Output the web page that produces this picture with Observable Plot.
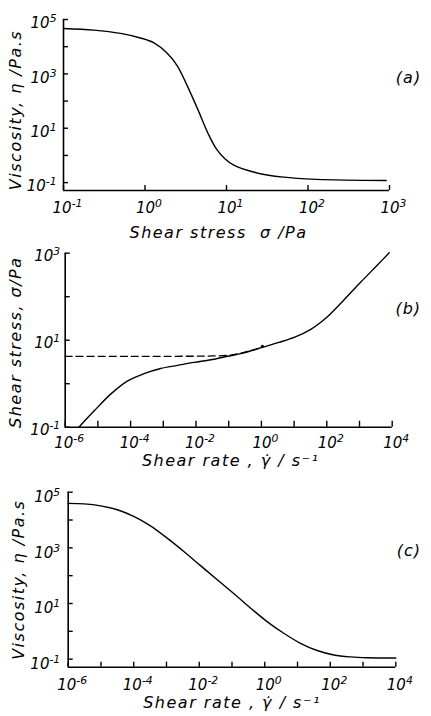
<!DOCTYPE html>
<html><head><meta charset="utf-8">
<script src="https://cdn.jsdelivr.net/npm/d3@7"></script>
<script src="https://cdn.jsdelivr.net/npm/@observablehq/plot@0.6"></script>
<style>body{margin:0;background:#fff} #chart svg{display:block}</style>
</head><body><div id="chart"></div>
<script>
// ---- Data (log10 values) ----
// (a) viscosity vs shear stress
const logStressA = [-1.0, -0.63, -0.30, -0.055, 0.11, 0.27, 0.40, 0.52, 0.64, 0.78, 0.88, 0.98, 1.09, 1.33, 1.70, 2.11, 2.96];
const logViscA   = [4.67, 4.61, 4.49, 4.32, 4.14, 3.77, 3.28, 2.55, 1.75, 0.77, 0.22, -0.12, -0.36, -0.61, -0.80, -0.88, -0.92];
// (b) shear stress vs shear rate (solid) and yield-stress extrapolation (dashed)
const logRateB   = [-5.58, -5.12, -4.61, -4.10, -3.59, -3.08, -2.57, -2.06, -1.55, -1.04, -0.53, 0.0, 0.54, 1.02, 1.51, 2.02, 2.53, 3.02, 3.55, 3.91];
const logStressB = [-1.0, -0.63, -0.24, 0.06, 0.23, 0.35, 0.42, 0.49, 0.55, 0.63, 0.71, 0.83, 0.95, 1.07, 1.25, 1.54, 1.93, 2.32, 2.73, 3.01];
const logRateDash   = [-6, -4, -3, -2, -1.5, -1.0, -0.5, 0.0];
const logStressDash = [0.63, 0.63, 0.63, 0.632, 0.638, 0.655, 0.725, 0.835];
const blobB = [{lx: 0.03, ly: 0.86}];
// (c) viscosity vs shear rate
const logRateC = [-6, -5.52, -5.01, -4.5, -4.0, -3.49, -2.98, -2.47, -1.96, -1.45, -0.94, -0.43, 0.07, 0.58, 1.09, 1.60, 2.11, 2.62, 3.13, 4.0];
const logViscC = [4.60, 4.58, 4.51, 4.37, 4.13, 3.79, 3.35, 2.87, 2.36, 1.85, 1.35, 0.83, 0.35, -0.07, -0.43, -0.69, -0.85, -0.92, -0.95, -0.96];

// Tick exponents (decades)
const xTicksA = [-1, 0, 1, 2, 3], xLabelsA = [-1, 0, 1, 2, 3];
const yTicksA = [-1, 0, 1, 2, 3, 4, 5], yLabelsA = [-1, 1, 3, 5];
const xTicksB = [-6, -5, -4, -3, -2, -1, 0, 1, 2, 3, 4], xLabelsB = [-6, -4, -2, 0, 2, 4];
const yTicksB = [-1, 0, 1, 2, 3], yLabelsB = [-1, 1, 3];
const xTicksC = xTicksB, xLabelsC = xLabelsB;
const yTicksC = yTicksA, yLabelsC = yLabelsA;

const titleStressA = "Shear stress  σ /Pa";
const titleViscA = "Viscosity, η /Pa.s";
const titleRate = "Shear rate , γ̇ / s⁻¹";
const titleStressB = "Shear stress, σ/Pa";
const tags = ["(a)", "(b)", "(c)"];

// ---- helpers ----
const p10 = e => Math.pow(10, e);
const SUP = {"-": "⁻", "0": "⁰", "1": "¹", "2": "²", "3": "³", "4": "⁴", "5": "⁵", "6": "⁶", "7": "⁷", "8": "⁸", "9": "⁹"};
const UNSUP = Object.fromEntries(Object.entries(SUP).map(([k, v]) => [v, k]));
const fmt = d => "10" + String(Math.round(Math.log10(d))).split("").map(c => SUP[c]).join("");
const FONT = "'DejaVu Sans', sans-serif";
const zip = (a, b) => a.map((v, i) => ({x: p10(v), y: p10(b[i])}));

function panel(o) {
  const W = 431;
  const fh = o.height - o.marginTop - o.marginBottom;
  const fw = W - o.marginLeft - o.marginRight;
  const lx0 = Math.log10(o.xDomain[0]), lx1 = Math.log10(o.xDomain[1]);
  const ly0 = Math.log10(o.yDomain[0]), ly1 = Math.log10(o.yDomain[1]);
  const tickTopY = p10(ly0 + o.tickLen * (ly1 - ly0) / fh);   // inward x-tick end
  const tickEndX = p10(lx0 + 5 * (lx1 - lx0) / fw);            // inward y-tick end
  return Plot.plot({
    width: W, height: o.height,
    marginTop: o.marginTop, marginBottom: o.marginBottom,
    marginLeft: o.marginLeft, marginRight: o.marginRight,
    style: {fontFamily: FONT, fontStyle: "italic", fontSize: "15px", background: "white", color: "black", overflow: "visible"},
    x: {type: "log", domain: o.xDomain},
    y: {type: "log", domain: o.yDomain},
    marks: [
      Plot.ruleX([o.xDomain[0]], {stroke: "black", strokeWidth: 1.6}),
      Plot.ruleY([o.yDomain[0]], {stroke: "black", strokeWidth: 1.6}),
      Plot.ruleX(o.xTicks.map(p10), {x: d => d, y1: o.yDomain[0], y2: tickTopY, stroke: "black", strokeWidth: 1.4}),
      Plot.ruleY(o.yTicks.map(p10), {y: d => d, x1: o.xDomain[0], x2: tickEndX, stroke: "black", strokeWidth: 1.4}),
      Plot.axisX(o.xLabels.map(p10), {tickSize: 0, tickPadding: o.xPad, dx: 4, tickFormat: fmt, label: null, fontSize: 15}),
      Plot.axisY(o.yLabels.map(p10), {tickSize: 0, tickPadding: o.yPad, dy: o.yDy, tickFormat: fmt, label: null, fontSize: 15}),
      ...o.marks,
      Plot.text([o.xTitle], {text: d => d, frameAnchor: "bottom", textAnchor: "middle", dx: o.xTitleDx, dy: o.xTitleDy, lineAnchor: "middle", fontSize: 16}),
      Plot.text([o.yTitle], {text: d => d, frameAnchor: "left", textAnchor: "middle", rotate: -90, dx: o.yTitleDx, dy: o.yTitleDy, lineAnchor: "middle", fontSize: 16}),
      Plot.text([o.tag], {text: d => d, frameAnchor: "right", textAnchor: "middle", dx: o.tagDx, dy: o.tagDy, lineAnchor: "middle", fontSize: 16})
    ]
  });
}

const lineStyle = {x: "x", y: "y", stroke: "black", strokeWidth: 1.4, curve: "catmull-rom"};

const chartA = panel({
  height: 242, marginTop: 19, marginBottom: 52, marginLeft: 63, marginRight: 42,
  xDomain: [0.1, 1000], yDomain: [p10(-1.29), 1e5],
  xTicks: xTicksA, xLabels: xLabelsA, yTicks: yTicksA, yLabels: yLabelsA, tickLen: 5,
  xPad: 12, yPad: 7, yDy: 4,
  xTitle: titleStressA, xTitleDx: -8, xTitleDy: 42,
  yTitle: titleViscA, yTitleDx: -48, yTitleDy: 5,
  tag: tags[0], tagDx: 19, tagDy: -27,
  marks: [Plot.line(zip(logStressA, logViscA), lineStyle)]
});

const chartB = panel({
  height: 238, marginTop: 10.7, marginBottom: 53.3, marginLeft: 64.7, marginRight: 39.3,
  xDomain: [1e-6, 1e4], yDomain: [0.1, 1000],
  xTicks: xTicksB, xLabels: xLabelsB, yTicks: yTicksB, yLabels: yLabelsB, tickLen: 6,
  xPad: 10, yPad: 5, yDy: 3,
  xTitle: titleRate, xTitleDx: 2, xTitleDy: 34,
  yTitle: titleStressB, yTitleDx: -49.7, yTitleDy: 2,
  tag: tags[1], tagDx: 16, tagDy: -31,
  marks: [
    Plot.line(zip(logRateDash, logStressDash), {...lineStyle, strokeWidth: 1.3, strokeDasharray: "7,4"}),
    Plot.line(zip(logRateB, logStressB), lineStyle),
    Plot.dot(blobB, {x: d => p10(d.lx), y: d => p10(d.ly), r: 1.6, fill: "black", stroke: "none"})
  ]
});

const chartC = panel({
  height: 236, marginTop: 11.7, marginBottom: 49.3, marginLeft: 67.7, marginRight: 35.7,
  xDomain: [1e-6, 1e4], yDomain: [p10(-1.29), 1e5],
  xTicks: xTicksC, xLabels: xLabelsC, yTicks: yTicksC, yLabels: yLabelsC, tickLen: 5,
  xPad: 12, yPad: 8, yDy: 5,
  xTitle: titleRate, xTitleDx: 0, xTitleDy: 36,
  yTitle: titleViscA, yTitleDx: -49.7, yTitleDy: 0,
  tag: tags[2], tagDx: 13, tagDy: -29,
  marks: [Plot.line(zip(logRateC, logViscC), lineStyle)]
});

const root = document.getElementById("chart");
root.append(chartA, chartB, chartC);

// Typeset power-of-ten tick labels with a real raised exponent, and space out titles.
const titles = new Set([titleStressA, titleViscA, titleRate, titleStressB, ...tags]);
root.querySelectorAll("text").forEach(t => {
  const s = t.textContent;
  const m = /^10([⁻⁰¹²³⁴⁵⁶⁷⁸⁹]+)$/.exec(s);
  if (m) {
    const exp = m[1].split("").map(c => UNSUP[c]).join("");
    t.textContent = "";
    const ns = "http://www.w3.org/2000/svg";
    const base = document.createElementNS(ns, "tspan");
    base.textContent = "10";
    const sup = document.createElementNS(ns, "tspan");
    sup.textContent = exp;
    sup.setAttribute("dy", "-0.55em");
    sup.setAttribute("font-size", "0.72em");
    t.append(base, sup);
  } else if (titles.has(s)) {
    t.setAttribute("letter-spacing", tags.includes(s) ? "1px" : "1.5px");
  }
});
</script>
</body></html>
